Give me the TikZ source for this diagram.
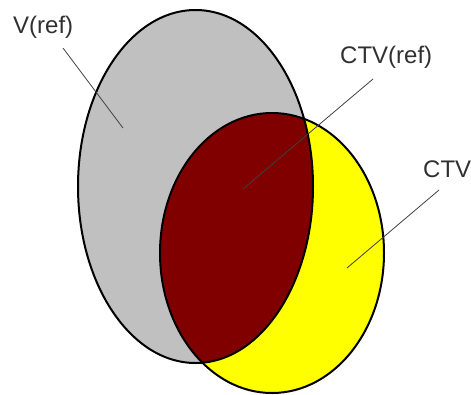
\documentclass[tikz,border=0pt]{standalone}
\usepackage{fontspec}
\setmainfont{Liberation Sans}
\definecolor{greyfill}{HTML}{C0C0C0}
\definecolor{darkred}{HTML}{800000}
\definecolor{yellowfill}{HTML}{FFFF00}
\definecolor{labeltext}{HTML}{303030}
\begin{document}
\begin{tikzpicture}[x=1pt,y=-1pt,
  lbl/.style={font=\fontsize{24}{28}\selectfont, text=labeltext, inner sep=0pt, anchor=base west},
  leader/.style={draw=black!75, line width=0.8pt},
  outline/.style={draw=black, line width=2pt}]
\useasboundingbox (0,0) rectangle (471,394);
% filled regions
\fill[greyfill] (195.5,186.5) ellipse [x radius=117.5pt, y radius=176.5pt];
\fill[yellowfill] (272,253) ellipse [x radius=112pt, y radius=140pt];
\begin{scope}
  \clip (195.5,186.5) ellipse [x radius=117.5pt, y radius=176.5pt];
  \fill[darkred] (272,253) ellipse [x radius=112pt, y radius=140pt];
\end{scope}
% outlines
\draw[outline] (195.5,186.5) ellipse [x radius=117.5pt, y radius=176.5pt];
\draw[outline] (272,253) ellipse [x radius=112pt, y radius=140pt];
% labels
\node[lbl] (vref) at (13,33) {V(ref)};
\node[lbl] (ctvref) at (340,63) {CTV(ref)};
\node[lbl] (ctv) at (423,177) {CTV};
% leader ends
\coordinate (vrefA) at (63,48);
\coordinate (vrefB) at (123,128);
\coordinate (ctvrefA) at (373,79);
\coordinate (ctvrefB) at (243,189);
\coordinate (ctvA) at (439,190);
\coordinate (ctvB) at (347,268);
\draw[leader] (vrefA) -- (vrefB);
\draw[leader] (ctvrefA) -- (ctvrefB);
\draw[leader] (ctvA) -- (ctvB);
\end{tikzpicture}
\end{document}
